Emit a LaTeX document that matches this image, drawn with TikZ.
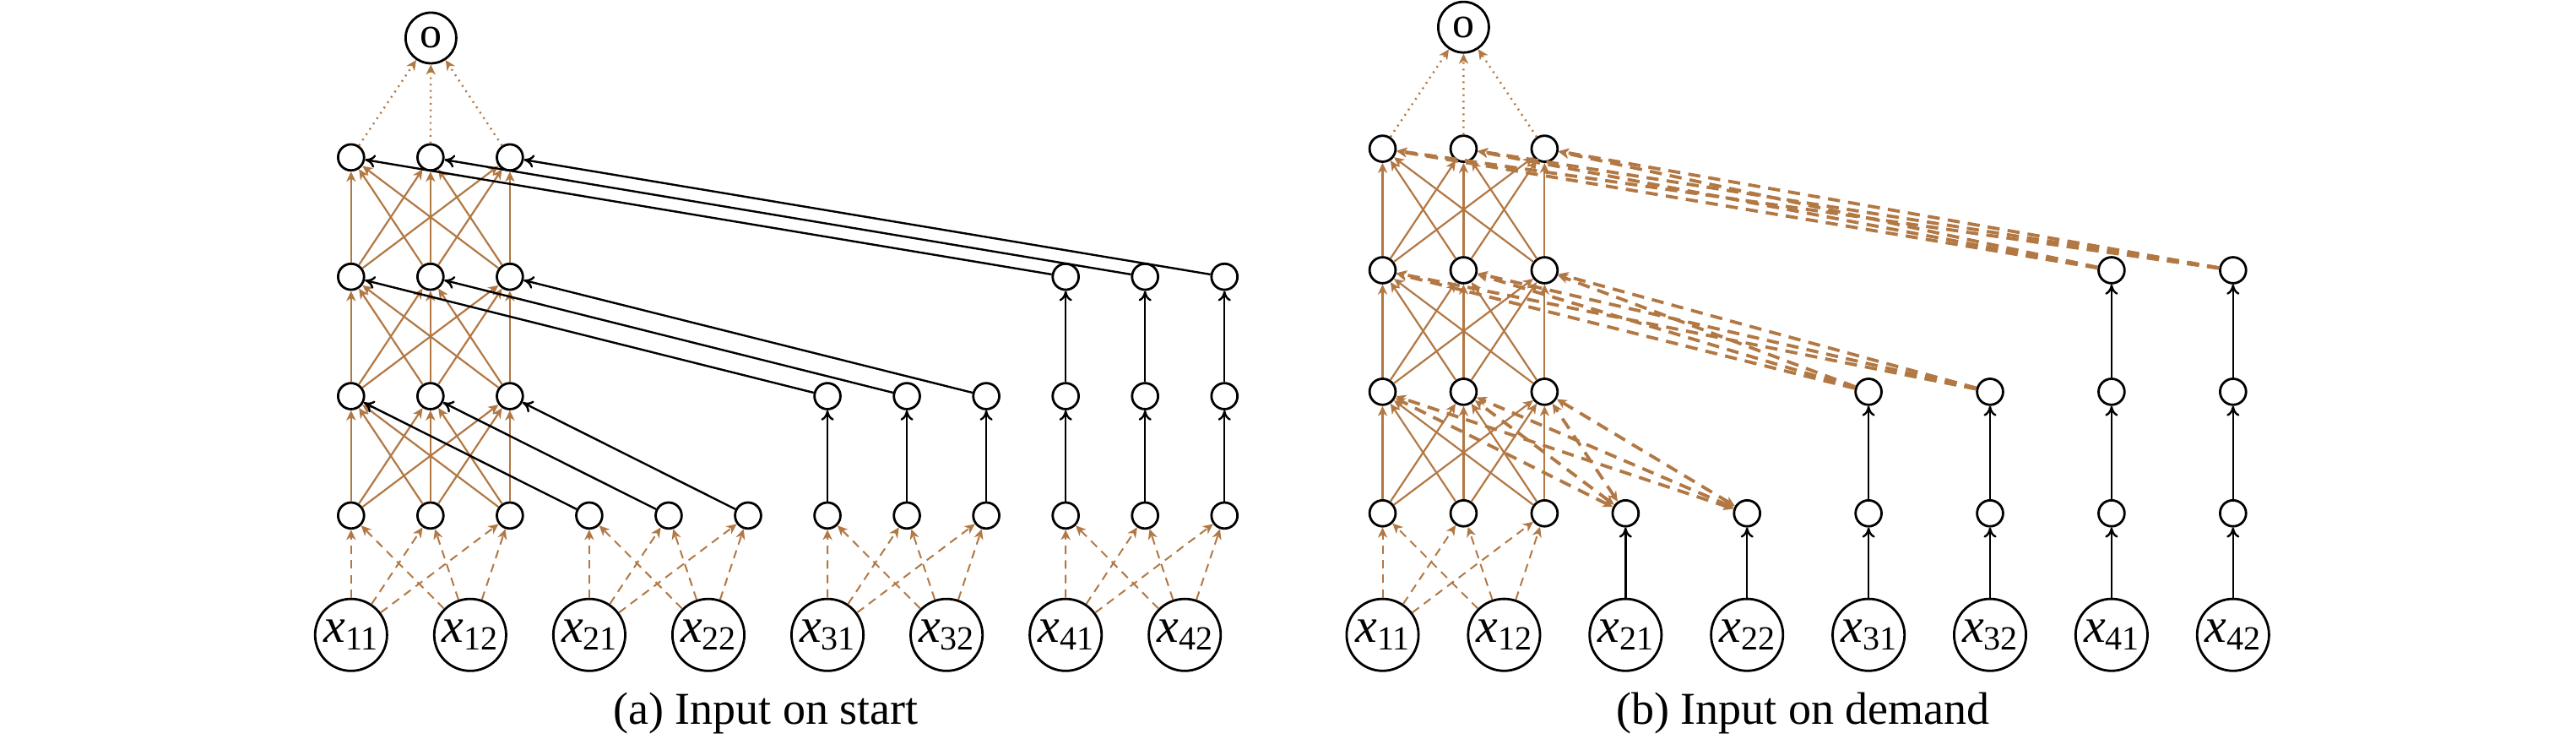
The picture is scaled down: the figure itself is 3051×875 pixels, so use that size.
\documentclass[tikz,border=0pt]{standalone}
\usepackage{fontspec}
\setmainfont{Liberation Serif}
\usetikzlibrary{arrows.meta}
\definecolor{brn}{RGB}{178,120,68}
\newcommand{\xlab}[1]{{\fontsize{14.5}{14.5}\selectfont\itshape x}\raisebox{-2.3pt}{\fontsize{10}{10}\selectfont #1}}
\begin{document}
\begin{tikzpicture}[x=0.25pt,y=-0.25pt,
  sn/.style={circle,draw,line width=0.7pt,minimum size=7.7pt,inner sep=0pt},
  inn/.style={circle,draw,line width=0.7pt,minimum size=21.3pt,inner sep=0pt},
  onode/.style={circle,draw,line width=0.7pt,minimum size=15pt,inner sep=0pt,font=\fontsize{13}{13}\selectfont},
  captxt/.style={anchor=base,inner sep=0pt,font=\fontsize{13.5}{13.5}\selectfont},
  btip/.style={-{Stealth[length=3pt,width=2.8pt,inset=0.9pt]}},
  bsol/.style={brn,line width=0.55pt,btip},
  bdash/.style={brn,line width=0.5pt,dash pattern=on 2.5pt off 1.8pt,btip},
  bdot/.style={brn,line width=0.6pt,dash pattern=on 0.5pt off 1.4pt,btip},
  bthick/.style={brn,line width=0.95pt,dash pattern=on 3.6pt off 2.4pt,btip},
  bthickb/.style={brn,line width=0.95pt,dash pattern=on 3.6pt off 2.4pt,
     {Stealth[length=3pt,width=2.8pt,inset=0.9pt]}-{Stealth[length=3pt,width=2.8pt,inset=0.9pt]}},
  blk/.style={black,line width=0.6pt,-{To[length=3pt,width=3.8pt]}},
]
\useasboundingbox (0,0) rectangle (3051,875);

% ================= panel (a) =================
\foreach \l in {1,2,3,4}{
  \foreach \k in {0,1,2}{
    \node[sn] (a-0-\l-\k) at ({415.8+94.04*\k},{751.75-141.35*\l}) {};
  }
}
\node[onode] (a-o) at (510.4,45) {o};
\foreach \g in {1,2,3}{
  \foreach \l in {1,...,\g}{
    \foreach \k in {0,1,2}{
      \node[sn] (a-\g-\l-\k) at ({415.8+94.04*(3*\g+\k)},{751.75-141.35*\l}) {};
    }
  }
}
\foreach \g/\gg in {0/1,1/2,2/3,3/4}{
  \foreach \m in {1,2}{
    \node[inn] (ax-\g-\m) at ({415.8+141.06*(2*\g+\m-1)},751.75) {\xlab{\gg\m}};
  }
}
\foreach \g in {0,1,2,3}{
  \foreach \m in {1,2}{
    \foreach \k in {0,1,2}{
      \draw[bdash] (ax-\g-\m) -- (a-\g-1-\k);
    }
  }
}
\foreach \l [evaluate=\l as \ln using int(\l+1)] in {1,2,3}{
  \foreach \k in {0,1,2}{
    \foreach \j in {0,1,2}{
      \draw[bsol] (a-0-\l-\k) -- (a-0-\ln-\j);
    }
  }
}
\foreach \k in {0,1,2}{ \draw[bdot] (a-0-4-\k) -- (a-o); }
\foreach \k in {0,1,2}{
  \draw[blk] (a-2-1-\k) -- (a-2-2-\k);
  \draw[blk] (a-3-1-\k) -- (a-3-2-\k);
  \draw[blk] (a-3-2-\k) -- (a-3-3-\k);
  \draw[blk] (a-1-1-\k) -- (a-0-2-\k);
  \draw[blk] (a-2-2-\k) -- (a-0-3-\k);
  \draw[blk] (a-3-3-\k) -- (a-0-4-\k);
}
\node[captxt] (capa) at (907,858) {(a) Input on start};

% ================= panel (b) =================
\foreach \l in {1,2,3,4}{
  \foreach \k in {0,1,2}{
    \node[sn] (b-0-\l-\k) at ({1637.5+95.93*\k},{751.7-143.9*\l}) {};
  }
}
\node[onode] (b-o) at (1733.4,32.2) {o};
\foreach \g in {1,2,3}{
  \foreach \l in {1,...,\g}{
    \foreach \m in {1,2}{
      \node[sn] (b-\g-\l-\m) at ({1637.5+143.9*(2*\g+\m-1)},{751.7-143.9*\l}) {};
    }
  }
}
\foreach \g/\gg in {0/1,1/2,2/3,3/4}{
  \foreach \m in {1,2}{
    \node[inn] (bx-\g-\m) at ({1637.5+143.9*(2*\g+\m-1)},751.7) {\xlab{\gg\m}};
  }
}
\foreach \m in {1,2}{
  \foreach \k in {0,1,2}{
    \draw[bdash] (bx-0-\m) -- (b-0-1-\k);
  }
}
\foreach \l [evaluate=\l as \ln using int(\l+1)] in {1,2,3}{
  \foreach \k in {0,1,2}{
    \foreach \j in {0,1,2}{
      \draw[bsol] (b-0-\l-\k) -- (b-0-\ln-\j);
    }
  }
}
\foreach \k in {0,1,2}{ \draw[bdot] (b-0-4-\k) -- (b-o); }
\foreach \m in {1,2}{
  \draw[blk] (bx-1-\m) -- (b-1-1-\m);
  \draw[blk] (bx-2-\m) -- (b-2-1-\m);
  \draw[blk] (b-2-1-\m) -- (b-2-2-\m);
  \draw[blk] (bx-3-\m) -- (b-3-1-\m);
  \draw[blk] (b-3-1-\m) -- (b-3-2-\m);
  \draw[blk] (b-3-2-\m) -- (b-3-3-\m);
  \foreach \k in {0,1,2}{
    \draw[bthickb] (b-1-1-\m) -- (b-0-2-\k);
    \draw[bthick] (b-2-2-\m) -- (b-0-3-\k);
    \draw[bthick] (b-3-3-\m) -- (b-0-4-\k);
  }
}
\node[captxt] (capb) at (2135.5,858) {(b) Input on demand};
\end{tikzpicture}
\end{document}
